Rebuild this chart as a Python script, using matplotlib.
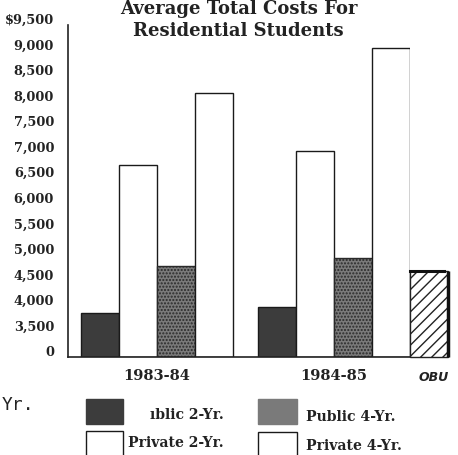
import numpy as np
import matplotlib
matplotlib.use("Agg")
import matplotlib.pyplot as plt
from matplotlib.patches import Rectangle
from matplotlib.transforms import ScaledTranslation

# ---------------- data ----------------
years = ["1983-84", "1984-85"]
series = ["Public 2-Yr.", "Private 2-Yr.", "Public 4-Yr.", "Private 4-Yr."]
public_2yr = [3860, 3980]
private_2yr = [6750, 7030]
public_4yr = [4780, 4940]
private_4yr = [8170, 9050]
obu_value = 4680
ytick_values = [0, 3500, 4000, 4500, 5000, 5500, 6000, 6500, 7000, 7500,
                8000, 8500, 9000, 9500]
ytick_labels = ["0", "3,500", "4,000", "4,500", "5,000", "5,500", "6,000",
                "6,500", "7,000", "7,500", "8,000", "8,500", "9,000", "$9,500"]

W, H = 458, 456
fig = plt.figure(figsize=(W / 100, H / 100), dpi=100)
fig.patch.set_facecolor("white")

def fx(px):
    return px / W

def fy(py):
    return 1 - py / H

ax = fig.add_axes([fx(68), fy(358), fx(410) - fx(68), fy(26) - fy(358)])

# broken axis: 0..3500 compressed to one step
def fwd(v):
    v = np.asarray(v, dtype=float)
    return np.where(v < 3500, v / 3500.0, 1 + (v - 3500) / 500.0)

def inv(p):
    p = np.asarray(p, dtype=float)
    return np.where(p < 1, p * 3500.0, 3500 + (p - 1) * 500.0)

ax.set_yscale("function", functions=(fwd, inv))

serif = "DejaVu Serif"
bw = 1.0
g1 = np.arange(4) * bw
g2 = g1 + 4.66
centers = [g1, g2]

stip = "#7a7a7a"
styles = [
    dict(facecolor="#3c3c3c", edgecolor="#1a1a1a"),
    dict(facecolor="white", edgecolor="#1a1a1a"),
    dict(facecolor=stip, edgecolor="#2a2a2a", hatch="....."),
    dict(facecolor="white", edgecolor="#1a1a1a"),
]
vals = [public_2yr, private_2yr, public_4yr, private_4yr]
for gi in range(2):
    for si in range(4):
        ax.bar(centers[gi][si], vals[si][gi], width=bw, linewidth=1.0,
               **styles[si])

# handwritten OBU bar beyond the axis
ax.bar(g2[-1] + 1.0, obu_value, width=bw, facecolor="white",
       edgecolor="#222222", hatch="///", linewidth=1.0, clip_on=False)
ax.plot([g2[-1] + 1.5, g2[-1] + 1.5], [0, obu_value], color="#111111",
        lw=2.5, clip_on=False, solid_capstyle="butt")
ax.plot([g2[-1] + 0.5, g2[-1] + 1.4], [obu_value, obu_value], color="#111111",
        lw=2.2, clip_on=False)

ax.set_xlim(-0.84, g2[-1] + 0.5)
ax.set_ylim(0, 9500)

ax.set_yticks(ytick_values)
ax.set_yticklabels(ytick_labels)
ax.minorticks_off()
ax.tick_params(axis="y", length=0, pad=10)
off = ScaledTranslation(0, 7 / 100, fig.dpi_scale_trans)
for lab in ax.get_yticklabels():
    lab.set_fontfamily(serif)
    lab.set_fontweight("bold")
    lab.set_fontsize(9.3)
    lab.set_color("#222222")
    lab.set_transform(lab.get_transform() + off)

ax.set_xticks([g1.mean(), g2.mean()])
ax.set_xticklabels(years, fontfamily=serif, fontweight="bold", fontsize=10.5,
                   color="#222222")
ax.tick_params(axis="x", length=0, pad=8)

for s in ["top", "right"]:
    ax.spines[s].set_visible(False)
for s in ["left", "bottom"]:
    ax.spines[s].set_linewidth(1.2)
    ax.spines[s].set_color("#222222")

# title
fig.text(fx(239), fy(9), "Average Total Costs For", ha="center", va="center",
         fontfamily=serif, fontweight="bold", fontsize=13, color="#222222")
fig.text(fx(238), fy(31), "Residential Students", ha="center", va="center",
         fontfamily=serif, fontweight="bold", fontsize=13, color="#222222")

# legend (manual)
def swatch(x0, y0, x1, y1, **kw):
    r = Rectangle((fx(x0), fy(y1)), fx(x1) - fx(x0), fy(y0) - fy(y1),
                  transform=fig.transFigure, linewidth=1.0, **kw)
    fig.add_artist(r)

swatch(86, 400, 123, 425, facecolor="#3c3c3c", edgecolor="#3c3c3c")
swatch(86, 432, 123, 462, facecolor="white", edgecolor="#1a1a1a")
swatch(258, 400, 297, 425, facecolor=stip, edgecolor=stip, hatch=".....")
swatch(258, 433, 297, 462, facecolor="white", edgecolor="#1a1a1a")

lkw = dict(fontfamily=serif, fontweight="bold", fontsize=10.1, color="#222222",
           va="center")
fig.text(fx(224), fy(415), "\u0131blic 2-Yr.", ha="right", **lkw)
fig.text(fx(224), fy(443), "Private 2-Yr.", ha="right", **lkw)
fig.text(fx(306), fy(417), "Public 4-Yr.", ha="left", **lkw)
fig.text(fx(306), fy(446), "Private 4-Yr.", ha="left", **lkw)

# handwritten / typed annotations
fig.text(fx(2), fy(405), "Yr.", ha="left", va="center",
         fontfamily="DejaVu Sans Mono", fontsize=13, color="#222222")
fig.text(fx(434), fy(378), "OBU", ha="center", va="center",
         fontfamily="DejaVu Sans", fontweight="bold", fontstyle="italic",
         fontsize=9, color="#222222")

fig.savefig("out.png", dpi=100, facecolor="white")
